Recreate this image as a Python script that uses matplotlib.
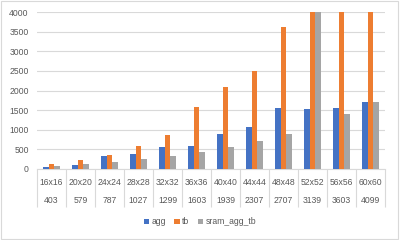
import matplotlib
matplotlib.use("Agg")
import matplotlib.pyplot as plt
import matplotlib.transforms as mtransforms
from matplotlib.patches import Rectangle
import numpy as np

categories = ["16x16", "20x20", "24x24", "28x28", "32x32", "36x36",
              "40x40", "44x44", "48x48", "52x52", "56x56", "60x60"]
sub_labels = ["403", "579", "787", "1027", "1299", "1603",
              "1939", "2307", "2707", "3139", "3603", "4099"]
agg = [59, 102, 323, 391, 552, 586, 900, 1070, 1563, 1529, 1554, 1715]
tb = [127, 221, 357, 578, 866, 1580, 2098, 2497, 3626, 4300, 5000, 5700]
sram_agg_tb = [85, 119, 170, 246, 323, 425, 560, 713, 900, 4100, 1393, 1698]

series = [("agg", agg, "#4472C4"), ("tb", tb, "#ED7D31"),
          ("sram_agg_tb", sram_agg_tb, "#A5A5A5")]

plt.rcParams['font.family'] = ['Liberation Sans', 'DejaVu Sans']
text_color = "#595959"
grid_color = "#D9D9D9"
fs = 6.2

fig = plt.figure(figsize=(4.0, 2.4), dpi=100)
fig.patches.append(Rectangle((0.002, 0.004), 0.994, 0.992, transform=fig.transFigure,
                             fill=False, edgecolor=grid_color, linewidth=0.8))
ax = fig.add_axes([37/400, 71/240, 348/400, 157/240])

x = np.arange(len(categories))
w = 1 / (3 + 2.19)
for i, (name, vals, col) in enumerate(series):
    ax.bar(x + (i - 1) * w, vals, width=w, color=col, label=name, zorder=3)

ax.set_ylim(0, 4000)
ax.set_xlim(-0.5, len(categories) - 0.5)
ax.set_yticks(np.arange(0, 4001, 500))
ax.yaxis.grid(True, color=grid_color, linewidth=0.8, zorder=0)
ax.tick_params(axis='y', length=0, labelsize=fs, labelcolor=text_color, pad=6)
for s in ["left", "right", "top"]:
    ax.spines[s].set_visible(False)
ax.spines["bottom"].set_color(grid_color)
ax.spines["bottom"].set_linewidth(0.8)

# boundaries as major ticks
ax.set_xticks(np.arange(-0.5, len(categories), 1.0))
ax.set_xticklabels([])
ax.tick_params(axis='x', which='major', length=27.5, color=grid_color, width=0.8, direction='out')
ax.set_xticks(x, minor=True)
ax.set_xticklabels(categories, minor=True)
ax.tick_params(axis='x', which='minor', length=0, labelsize=fs, labelcolor=text_color, pad=6.5)

trans = mtransforms.blended_transform_factory(ax.transData, ax.transAxes)
for xi, lab in zip(x, sub_labels):
    ax.annotate(lab, xy=(xi, 0), xycoords=trans, xytext=(0, -23), textcoords='offset points',
                ha='center', va='center', fontsize=fs, color=text_color)

fig.legend(loc='center', bbox_to_anchor=(0.5, 1 - 222/240), ncol=3, frameon=False,
           fontsize=fs, labelcolor=text_color, handlelength=0.6, handleheight=0.6,
           handletextpad=0.3, columnspacing=1.0)

fig.savefig("out.png", dpi=100)
